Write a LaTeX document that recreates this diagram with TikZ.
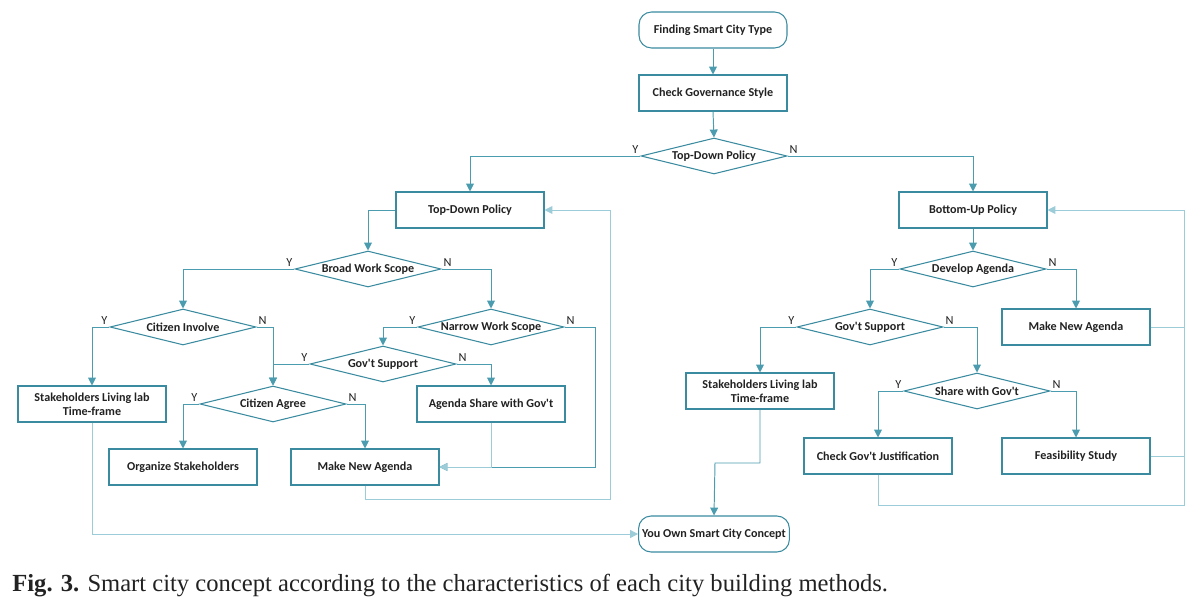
\documentclass[tikz,border=0pt]{standalone}
\usepackage{fontspec}
\setmainfont{Liberation Serif}
\newfontfamily\boxfont{Carlito}
\usepackage{tikz}
\usetikzlibrary{calc,positioning,arrows.meta,shapes.geometric}
\definecolor{city-line}{HTML}{4C9CB0}
\definecolor{city-light}{HTML}{9CCCD8}
\definecolor{city-edge}{HTML}{3A8BA0}
\definecolor{city-text}{HTML}{222222}

\begin{document}
\begin{tikzpicture}[
  x=0.02cm, y=-0.02cm,
  font=\boxfont\bfseries\fontsize{6.9}{8}\selectfont,
  every node/.style={align=center, text=city-text},
  block/.style={rectangle, draw=city-edge, line width=0.6pt, minimum width=2.96cm, minimum height=0.72cm, inner sep=2pt, fill=white},
  term/.style={block, rounded corners=0.25cm},
  decision/.style={diamond, aspect=4, draw=city-edge, line width=0.6pt, minimum width=2.92cm, minimum height=0.72cm, inner sep=0pt, fill=white},
  arrow/.style={-{Triangle[length=4.5pt, width=4.5pt]}, line width=0.55pt, city-line},
  back/.style={arrow, city-light},
  plain/.style={line width=0.55pt, city-light},
  yn/.style={font=\boxfont\fontsize{7}{8}\selectfont, inner sep=1pt}
]
  \useasboundingbox (0,0) rectangle (1201,605);

  % top
  \node[term]     (start) at (713,30)  {Finding Smart City Type};
  \node[block]    (gov)   at (713,93)  {Check Governance Style};
  \node[decision] (tdd)   at (714,156) {Top-Down Policy};
  \node[block]    (tdp)   at (470,210) {Top-Down Policy};
  \node[block]    (bup)   at (973,210) {Bottom-Up Policy};

  % left branch
  \node[decision] (bws)  at (368,269) {Broad Work Scope};
  \node[decision] (ci)   at (183,327) {Citizen Involve};
  \node[decision] (nws)  at (491,327) {Narrow Work Scope};
  \node[decision] (gsl)  at (383,364) {Gov't Support};
  \node[decision] (ca)   at (273,404) {Citizen Agree};
  \node[block]    (sll)  at (92,404)  {Stakeholders Living lab\\Time-frame};
  \node[block]    (asg)  at (491,404) {Agenda Share with Gov't};
  \node[block]    (org)  at (183,467) {Organize Stakeholders};
  \node[block]    (mnal) at (365,467) {Make New Agenda};

  % right branch
  \node[decision] (dev)  at (973,269)  {Develop Agenda};
  \node[decision] (gsr)  at (870,327)  {Gov't Support};
  \node[block]    (mnar) at (1076,327) {Make New Agenda};
  \node[block]    (slr)  at (760,391)  {Stakeholders Living lab\\Time-frame};
  \node[decision] (swg)  at (977,391)  {Share with Gov't};
  \node[block]    (cgj)  at (878,456)  {Check Gov't Justification};
  \node[block]    (fs)   at (1076,456) {Feasibility Study};

  \node[term] (own) at (714,534) {You Own Smart City Concept};

  % corner points of the return lines
  \coordinate (nr) at (595,467);
  \coordinate (lb) at (610,499);
  \coordinate (rb) at (1184,505);
  \coordinate (sm) at (715,463);

  \draw[arrow] (start.south) -- (gov.north);
  \draw[arrow] (gov.south) -- (tdd.north);
  \draw[arrow] (tdp.west) -| (bws.north);
  \draw[arrow] (bup.south) -- (dev.north);

  % yes / no branches
  \foreach \d/\y/\n in {tdd/tdp/bup, bws/ci/nws, ci/sll/ca, nws/gsl/nr, gsl/ca/asg, ca/org/mnal, dev/gsr/mnar, gsr/slr/swg, swg/cgj/fs} {
    \draw[arrow] (\d.west) -| (\y.north);
    \node[yn, anchor=south east] at (\d.west) {Y};
    \node[yn, anchor=south west] at (\d.east) {N};
  }
  \foreach \d/\n in {tdd/bup, bws/nws, ci/ca, gsl/asg, ca/mnal, dev/mnar, gsr/swg, swg/fs}
    \draw[arrow] (\d.east) -| (\n.north);
  \draw[arrow] (nws.east) -| (nr) -- (mnal.east);

  % return lines
  \draw[back] (asg.south) |- (mnal.east);
  \draw[back] (mnal.south) |- (lb) |- (tdp.east);
  \draw[back] (cgj.south) |- (rb) |- (bup.east);
  \draw[plain] (mnar.east) -- (mnar.east -| rb);
  \draw[plain] (fs.east) -- (fs.east -| rb);
  \draw[back] (sll.south) |- (own.west);
  \draw[arrow] (slr.south) |- (sm) -- (own.north);

  \node[anchor=base west, inner sep=0pt, font=\fontsize{14}{16}\selectfont] (cap) at (12,591)
    {\textbf{Fig. 3.} Smart city concept according to the characteristics of each city building methods.};
\end{tikzpicture}
\end{document}
